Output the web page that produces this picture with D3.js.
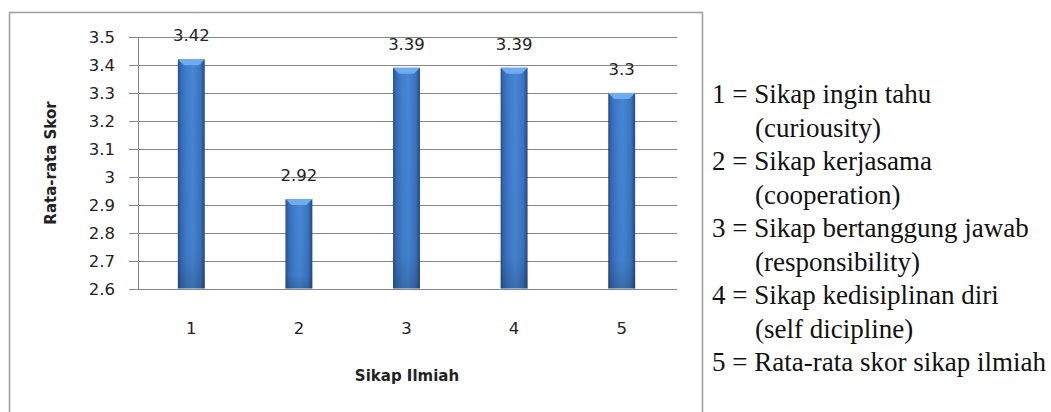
<!DOCTYPE html>
<html>
<head>
<meta charset="utf-8">
<script src="https://cdn.jsdelivr.net/npm/d3@7/dist/d3.min.js"></script>
<style>
  html, body { margin: 0; padding: 0; background: #ffffff; }
  svg { display: block; }
</style>
</head>
<body>
<svg id="chart" width="1051" height="412"></svg>
<script>
// Scientific attitude scores (mean per aspect)
const categories = ["1", "2", "3", "4", "5"];
const scores = [3.42, 2.92, 3.39, 3.39, 3.3];
const yTicks = [2.6, 2.7, 2.8, 2.9, 3.0, 3.1, 3.2, 3.3, 3.4, 3.5];
const yTickLabels = ["2.6", "2.7", "2.8", "2.9", "3", "3.1", "3.2", "3.3", "3.4", "3.5"];
const yTitle = "Rata-rata Skor";
const xTitle = "Sikap Ilmiah";
const legendLines = [
  { text: "1 = Sikap ingin tahu", indent: false },
  { text: "(curiousity)", indent: true },
  { text: "2 = Sikap kerjasama", indent: false },
  { text: "(cooperation)", indent: true },
  { text: "3 = Sikap bertanggung jawab", indent: false },
  { text: "(responsibility)", indent: true },
  { text: "4 = Sikap kedisiplinan diri", indent: false },
  { text: "(self dicipline)", indent: true },
  { text: "5 = Rata-rata skor sikap ilmiah", indent: false }
];

const svg = d3.select("#chart");
const sansFont = "'DejaVu Sans', Verdana, sans-serif";
const serifFont = "'Liberation Serif', 'Times New Roman', serif";

// Chart frame (runs off the bottom edge)
svg.append("rect")
  .attr("x", 9.5).attr("y", 12.5)
  .attr("width", 693).attr("height", 430)
  .attr("fill", "none")
  .attr("stroke", "#a3a3a3")
  .attr("stroke-width", 1.6);

const plot = { left: 137.5, right: 675.5, top: 37, bottom: 288.5 };

const x = d3.scaleBand()
  .domain(categories)
  .range([plot.left, plot.right]);

const y = d3.scaleLinear()
  .domain([2.6, 3.5])
  .range([plot.bottom, plot.top]);

// Horizontal gridlines with short ticks left of the axis
svg.append("g")
  .selectAll("line")
  .data(yTicks)
  .join("line")
  .attr("x1", 129).attr("x2", 677)
  .attr("y1", d => Math.round(y(d)) + 0.5)
  .attr("y2", d => Math.round(y(d)) + 0.5)
  .attr("stroke", "#868686")
  .attr("stroke-width", 1);

// Vertical value axis line
svg.append("line")
  .attr("x1", 138.5).attr("x2", 138.5)
  .attr("y1", Math.round(y(3.5)) + 0.5)
  .attr("y2", Math.round(y(2.6)) + 0.5)
  .attr("stroke", "#868686")
  .attr("stroke-width", 1);

// Y tick labels
svg.append("g")
  .selectAll("text")
  .data(yTicks)
  .join("text")
  .attr("x", 115)
  .attr("y", d => y(d) + 6)
  .attr("text-anchor", "end")
  .attr("font-family", sansFont)
  .attr("font-size", 16.5)
  .attr("fill", "#222")
  .text((d, i) => yTickLabels[i]);

// Bar shading: dark edges, lighter core
const defs = svg.append("defs");
const grad = defs.append("linearGradient")
  .attr("id", "barShade")
  .attr("x1", "0%").attr("x2", "100%")
  .attr("y1", "0%").attr("y2", "0%");
[
  [0, "#234d86"], [0.1, "#3569b3"], [0.3, "#3f7ccb"],
  [0.55, "#4787d6"], [0.85, "#3a73bf"], [1, "#214a82"]
].forEach(([o, c]) => grad.append("stop").attr("offset", o).attr("stop-color", c));

const vgrad = defs.append("linearGradient")
  .attr("id", "barFade")
  .attr("x1", "0%").attr("x2", "0%")
  .attr("y1", "0%").attr("y2", "100%");
vgrad.append("stop").attr("offset", 0).attr("stop-color", "#000").attr("stop-opacity", 0);
vgrad.append("stop").attr("offset", 0.85).attr("stop-color", "#000").attr("stop-opacity", 0.04);
vgrad.append("stop").attr("offset", 1).attr("stop-color", "#000").attr("stop-opacity", 0.18);

const barW = x.bandwidth() * 0.25;
const bars = svg.append("g")
  .selectAll("g")
  .data(categories.map((c, i) => ({ c, v: scores[i] })))
  .join("g");

bars.append("rect")
  .attr("x", d => x(d.c) + (x.bandwidth() - barW) / 2)
  .attr("y", d => y(d.v))
  .attr("width", barW)
  .attr("height", d => y(2.6) - y(d.v))
  .attr("fill", "url(#barShade)");

bars.append("rect")
  .attr("x", d => x(d.c) + (x.bandwidth() - barW) / 2)
  .attr("y", d => y(d.v))
  .attr("width", barW)
  .attr("height", d => y(2.6) - y(d.v))
  .attr("fill", "url(#barFade)");

// Bevelled top face
bars.append("polygon")
  .attr("points", d => {
    const x0 = x(d.c) + (x.bandwidth() - barW) / 2;
    const x1 = x0 + barW;
    const t = y(d.v);
    return [[x0, t], [x1, t], [x1 - 6, t + 6], [x0 + 6, t + 6]].map(p => p.join(",")).join(" ");
  })
  .attr("fill", "#6eaced");

// Value labels
svg.append("g")
  .selectAll("text")
  .data(categories.map((c, i) => ({ c, v: scores[i] })))
  .join("text")
  .attr("x", d => x(d.c) + x.bandwidth() / 2)
  .attr("y", d => y(d.v) - 18)
  .attr("text-anchor", "middle")
  .attr("font-family", sansFont)
  .attr("font-size", 16.5)
  .attr("fill", "#222")
  .text(d => String(d.v));

// Category labels
svg.append("g")
  .selectAll("text")
  .data(categories)
  .join("text")
  .attr("x", d => x(d) + x.bandwidth() / 2)
  .attr("y", 334)
  .attr("text-anchor", "middle")
  .attr("font-family", sansFont)
  .attr("font-size", 16.5)
  .attr("fill", "#222")
  .text(d => d);

// Axis titles
svg.append("text")
  .attr("x", 407)
  .attr("y", 381)
  .attr("text-anchor", "middle")
  .attr("font-family", sansFont)
  .attr("font-weight", "bold")
  .attr("font-size", 15)
  .attr("fill", "#222")
  .text(xTitle);

svg.append("text")
  .attr("transform", "translate(56,163) rotate(-90)")
  .attr("text-anchor", "middle")
  .attr("font-family", sansFont)
  .attr("font-weight", "bold")
  .attr("font-size", 15)
  .attr("fill", "#222")
  .text(yTitle);

// Key for the category numbers
svg.append("g")
  .selectAll("text")
  .data(legendLines)
  .join("text")
  .attr("x", d => d.indent ? 755 : 712)
  .attr("y", (d, i) => 103 + i * 33.5)
  .attr("font-family", serifFont)
  .attr("font-size", 27)
  .attr("fill", "#111")
  .text(d => d.text);
</script>
</body>
</html>
